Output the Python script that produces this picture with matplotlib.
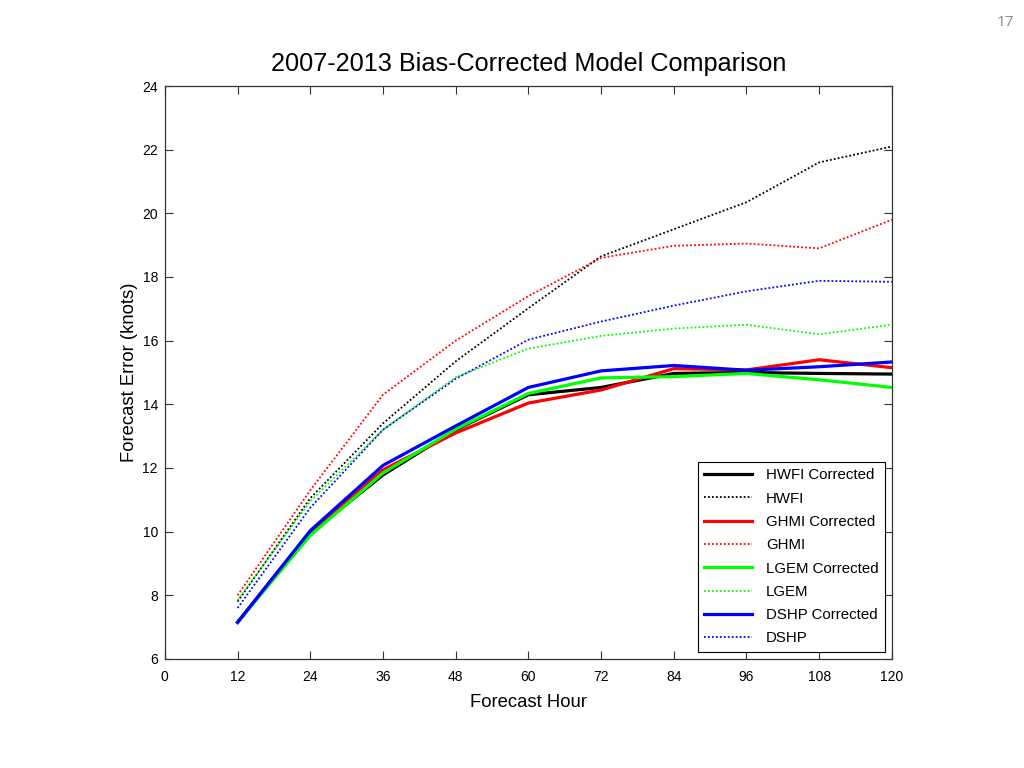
import matplotlib
matplotlib.use("Agg")
import matplotlib.pyplot as plt

# ---------------------------
# DATA
# ---------------------------
hours = [12, 24, 36, 48, 60, 72, 84, 96, 108, 120]

hwfi_corr = [7.15, 9.95, 11.78, 13.2, 14.3, 14.53, 14.97, 15.0, 14.97, 14.95]
hwfi = [7.8, 11.05, 13.4, 15.35, 17.02, 18.65, 19.5, 20.35, 21.6, 22.1]
ghmi_corr = [7.15, 10.0, 11.94, 13.1, 14.04, 14.45, 15.12, 15.08, 15.4, 15.15]
ghmi = [8.0, 11.3, 14.3, 16.0, 17.4, 18.6, 18.98, 19.05, 18.9, 19.8]
lgem_corr = [7.15, 9.88, 11.84, 13.22, 14.34, 14.83, 14.87, 14.97, 14.77, 14.53]
lgem = [7.85, 10.95, 13.2, 14.85, 15.75, 16.15, 16.38, 16.5, 16.2, 16.5]
dshp_corr = [7.15, 10.03, 12.08, 13.32, 14.53, 15.05, 15.22, 15.07, 15.18, 15.33]
dshp = [7.6, 10.75, 13.2, 14.8, 16.03, 16.6, 17.1, 17.55, 17.88, 17.85]

x_ticks = [0, 12, 24, 36, 48, 60, 72, 84, 96, 108, 120]
y_ticks = [6, 8, 10, 12, 14, 16, 18, 20, 22, 24]

plt.rcParams['font.family'] = ['Liberation Sans', 'DejaVu Sans']

fig = plt.figure(figsize=(10.24, 7.68), dpi=100)
ax = fig.add_axes([0.161, 0.142, 0.710, 0.746])

dot = (0, (1, 1.2))
series = [
    (hwfi_corr, 'black', '-', 'HWFI Corrected'),
    (hwfi, 'black', dot, 'HWFI'),
    (ghmi_corr, 'red', '-', 'GHMI Corrected'),
    (ghmi, 'red', dot, 'GHMI'),
    (lgem_corr, '#00ff00', '-', 'LGEM Corrected'),
    (lgem, '#00ff00', dot, 'LGEM'),
    (dshp_corr, 'blue', '-', 'DSHP Corrected'),
    (dshp, 'blue', dot, 'DSHP'),
]
for vals, col, ls, lab in series:
    lw = 2.3 if ls == '-' else 1.3
    ax.plot(hours, vals, color=col, linestyle=ls, linewidth=lw, label=lab)

ax.set_xlim(0, 120)
ax.set_ylim(6, 24)
ax.set_xticks(x_ticks)
ax.set_yticks(y_ticks)
ax.tick_params(direction='in', length=6, width=0.8, top=True, right=True,
               labelsize=10, colors='#333333', labelcolor='black')
ax.tick_params(axis='x', pad=8)
ax.tick_params(axis='y', pad=5)
for sp in ax.spines.values():
    sp.set_linewidth(0.9)
    sp.set_color('#333333')

ax.set_xlabel("Forecast Hour", fontsize=13.3, labelpad=7)
ax.set_ylabel("Forecast Error (knots)", fontsize=13.3, labelpad=3)
ax.set_title("2007-2013 Bias-Corrected Model Comparison", fontsize=18.2, pad=11)

leg = ax.legend(loc='lower right', fontsize=10.8, fancybox=False, framealpha=1,
                edgecolor='black', handlelength=3.2, labelspacing=0.62,
                borderaxespad=0.45, handletextpad=0.9, borderpad=0.45)
leg.get_frame().set_linewidth(0.8)

fig.text(0.99, 0.971, "17", fontsize=11, color='#8a8a8a', ha='right',
         va='center', family=['Open Sans', 'DejaVu Sans'])

fig.savefig("out.png", dpi=100)
